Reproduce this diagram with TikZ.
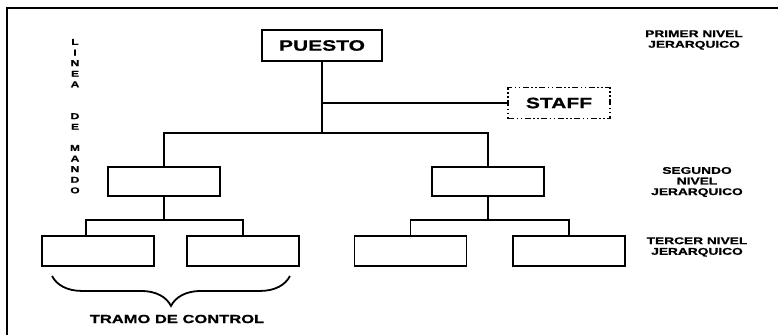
\documentclass[tikz,border=0pt]{standalone}
\usepackage{fontspec}
\setmainfont[FakeStretch=1.4, FakeBold=0.8]{Liberation Sans}
\usetikzlibrary{decorations.pathreplacing}

\begin{document}
\begin{tikzpicture}[x=1pt, y=-1pt,
  box/.style={draw, line width=1.9pt, minimum width=112pt, minimum height=29pt,
              inner sep=0pt, font=\bfseries\fontsize{15}{17}\selectfont},
  staffbox/.style={box, minimum width=102pt, minimum height=31pt,
              dash pattern=on 6pt off 2.5pt on 1.5pt off 2.5pt on 1.5pt off 2.5pt},
  nivel/.style={align=center, font=\bfseries\fontsize{9.8}{10.6}\selectfont},
  linea/.style={line width=1.8pt}
]
  \useasboundingbox (0,0) rectangle (778,335);
  \draw[linea] (7,335) -- (7,8) -- (778,8);

  \node[box, minimum width=120pt, minimum height=31pt] (puesto) at (322,45.5) {PUESTO};
  \node[staffbox] (staff) at (559,103) {STAFF};

  \node[box] (seg1) at (164,181.5) {};
  \node[box] (seg2) at (488,181.5) {};

  \node[box, minimum height=30pt] (ter1) at (98,251) {};
  \node[box, minimum height=30pt] (ter2) at (243,251) {};
  \node[box, minimum height=30pt] (ter3) at (410.5,251) {};
  \node[box, minimum height=30pt] (ter4) at (569,251) {};

  \coordinate (j1) at (322,133);
  \coordinate (j2) at (164,220);
  \coordinate (j3) at (488,220);

  \draw[linea] (puesto.south) -- (j1);
  \draw[linea] (puesto.south |- staff.west) -- (staff.west);
  \draw[linea] (seg1.north) |- (j1) -| (seg2.north);
  \draw[linea] (seg1.south) -- (j2);
  \draw[linea] ([xshift=-12pt]ter1.north) |- (j2) -| (ter2.north);
  \draw[linea] (seg2.south) -- (j3);
  \draw[linea] (ter3.north) |- (j3) -| (ter4.north);

  % tramo de control
  \draw[linea, decorate, decoration={brace, mirror, amplitude=30pt}]
    ([shift={(11,9)}]ter1.south west) -- ([shift={(-10,9)}]ter2.south east);
  \node[font=\bfseries\fontsize{11.8}{13}\selectfont] (tramo) at (177,319) {TRAMO DE CONTROL};

  \node[align=center, font=\bfseries\fontsize{8.6}{10.6}\selectfont] (mando) at (75,116.2)
    {L\\I\\N\\E\\A\\[21.2pt]D\\E\\[10.6pt]M\\A\\N\\D\\O};

  \node[nivel] (nivel1) at (694,40) {PRIMER NIVEL\\JERARQUICO};
  \node[nivel] (nivel2) at (697,182) {SEGUNDO\\NIVEL\\JERARQUICO};
  \node[nivel] (nivel3) at (697,247) {TERCER NIVEL\\JERARQUICO};
\end{tikzpicture}
\end{document}
